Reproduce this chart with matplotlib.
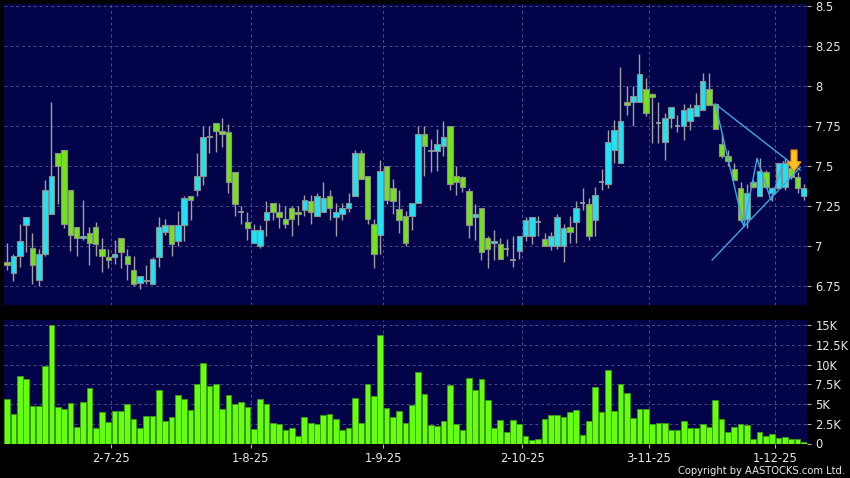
import numpy as np
import matplotlib
matplotlib.use("Agg")
import matplotlib.pyplot as plt
from matplotlib.patches import Polygon

# ---------------- data ----------------
opens = [6.90, 6.83, 6.94, 7.13, 6.99, 6.79, 6.95, 7.20, 7.58, 7.60,
         7.35, 7.12, 7.05, 7.08, 7.12, 6.98, 6.93, 6.93, 7.05, 6.94,
         6.85, 6.77, 6.78, 6.76, 6.93, 7.09, 7.13, 7.03, 7.13, 7.31,
         7.35, 7.44, 7.68, 7.77, 7.72, 7.71, 7.46, 7.215, 7.15, 7.02,
         7.00, 7.16, 7.27, 7.215, 7.17, 7.24, 7.215, 7.225, 7.28, 7.19,
         7.21, 7.315, 7.18, 7.20, 7.24, 7.315, 7.58, 7.44, 7.14, 7.07,
         7.50, 7.36, 7.23, 7.19, 7.19, 7.27, 7.70, 7.595, 7.595, 7.625,
         7.75, 7.44, 7.43, 7.345, 7.18, 7.24, 7.05, 7.02, 7.01, 6.98,
         6.91, 6.97, 7.06, 7.06, 7.15, 7.045, 7.00, 7.00, 7.00, 7.12,
         7.15, 7.27, 7.26, 7.16, 7.40, 7.39, 7.60, 7.52, 7.90, 7.90,
         7.90, 7.98, 7.95, 7.77, 7.65, 7.80, 7.75, 7.75, 7.78, 7.81,
         7.85, 7.98, 7.89, 7.64, 7.56, 7.48, 7.36, 7.17, 7.40, 7.315,
         7.465, 7.33, 7.36, 7.37, 7.485, 7.43, 7.31]
highs = [7.02, 6.95, 7.14, 7.18, 7.08, 6.98, 7.41, 7.90, 7.58, 7.60,
         7.35, 7.12, 7.29, 7.12, 7.15, 7.05, 6.98, 7.04, 7.05, 6.98,
         6.94, 6.81, 6.88, 6.93, 7.18, 7.17, 7.13, 7.22, 7.31, 7.31,
         7.58, 7.75, 7.75, 7.77, 7.80, 7.76, 7.46, 7.25, 7.21, 7.14,
         7.13, 7.28, 7.27, 7.27, 7.25, 7.25, 7.25, 7.32, 7.32, 7.33,
         7.40, 7.35, 7.27, 7.27, 7.33, 7.60, 7.60, 7.44, 7.17, 7.54,
         7.50, 7.42, 7.35, 7.22, 7.27, 7.75, 7.75, 7.67, 7.73, 7.78,
         7.75, 7.50, 7.44, 7.36, 7.26, 7.24, 7.06, 7.10, 7.05, 7.045,
         7.06, 7.06, 7.18, 7.18, 7.19, 7.08, 7.09, 7.20, 7.14, 7.19,
         7.28, 7.365, 7.30, 7.37, 7.48, 7.725, 7.79, 8.12, 8.00, 8.00,
         8.20, 8.05, 7.955, 7.90, 7.83, 7.87, 7.82, 7.89, 7.89, 7.955,
         8.08, 8.08, 7.89, 7.70, 7.60, 7.52, 7.40, 7.39, 7.41, 7.55,
         7.475, 7.37, 7.52, 7.55, 7.52, 7.46, 7.39]
lows = [6.85, 6.78, 6.87, 6.96, 6.76, 6.75, 6.94, 7.20, 7.26, 7.11,
        6.97, 6.94, 7.04, 6.88, 6.94, 6.84, 6.86, 6.89, 6.86, 6.79,
        6.75, 6.73, 6.76, 6.76, 6.87, 7.07, 6.94, 7.00, 7.03, 7.16,
        7.31, 7.38, 7.58, 7.59, 7.62, 7.33, 7.19, 7.14, 7.04, 7.02,
        6.99, 7.06, 7.16, 7.11, 7.11, 7.06, 7.13, 7.19, 7.14, 7.19,
        7.21, 7.16, 7.06, 7.16, 7.215, 7.315, 7.42, 7.14, 6.86, 6.95,
        7.26, 7.20, 7.08, 7.00, 7.10, 7.27, 7.44, 7.465, 7.47, 7.56,
        7.35, 7.32, 7.34, 7.05, 7.04, 6.91, 6.86, 6.91, 6.92, 6.94,
        6.87, 6.92, 7.03, 7.01, 7.06, 7.00, 6.975, 6.98, 6.90, 7.02,
        7.02, 7.225, 7.04, 7.06, 7.35, 7.36, 7.52, 7.52, 7.82, 7.75,
        7.90, 7.81, 7.645, 7.645, 7.54, 7.74, 7.71, 7.66, 7.725, 7.81,
        7.85, 7.88, 7.73, 7.55, 7.50, 7.415, 7.15, 7.11, 7.365, 7.315,
        7.36, 7.28, 7.36, 7.35, 7.42, 7.33, 7.29]
closes = [6.88, 6.94, 7.03, 7.18, 6.88, 6.95, 7.35, 7.44, 7.50, 7.14,
          7.07, 7.05, 7.06, 7.02, 7.01, 6.94, 6.91, 6.95, 6.96, 6.89,
          6.76, 6.81, 6.79, 6.92, 7.12, 7.13, 7.01, 7.13, 7.30, 7.29,
          7.44, 7.68, 7.69, 7.72, 7.70, 7.40, 7.26, 7.215, 7.11, 7.10,
          7.10, 7.215, 7.215, 7.18, 7.14, 7.17, 7.20, 7.29, 7.215, 7.31,
          7.30, 7.24, 7.21, 7.24, 7.27, 7.58, 7.42, 7.17, 6.95, 7.47,
          7.29, 7.28, 7.16, 7.02, 7.27, 7.70, 7.625, 7.595, 7.64, 7.68,
          7.39, 7.40, 7.37, 7.13, 7.20, 6.965, 6.98, 7.03, 6.92, 6.98,
          6.91, 7.06, 7.16, 7.18, 7.15, 7.00, 7.06, 7.18, 7.115, 7.09,
          7.24, 7.27, 7.06, 7.32, 7.40, 7.65, 7.725, 7.78, 7.88, 7.94,
          8.075, 7.83, 7.93, 7.77, 7.80, 7.87, 7.75, 7.85, 7.86, 7.88,
          8.03, 7.88, 7.73, 7.56, 7.53, 7.415, 7.16, 7.33, 7.37, 7.47,
          7.37, 7.36, 7.52, 7.52, 7.43, 7.36, 7.36]
volumes_k = [5.58, 3.76, 8.58, 8.15, 4.73, 4.77, 9.80, 15.0, 4.60, 4.31,
             5.11, 2.15, 5.20, 7.01, 1.99, 3.93, 2.75, 4.18, 4.06, 5.03,
             3.13, 1.94, 3.46, 3.50, 6.76, 2.83, 3.42, 6.21, 5.66, 4.22,
             7.60, 10.14, 7.27, 7.52, 4.31, 6.21, 5.03, 5.24, 4.60, 1.90,
             5.66, 5.03, 2.62, 2.41, 1.65, 1.99, 0.89, 3.34, 2.66, 2.41,
             3.63, 3.72, 3.13, 1.77, 1.94, 5.79, 2.58, 7.60, 5.96, 13.77,
             4.52, 3.34, 4.14, 2.58, 4.90, 9.00, 6.29, 2.32, 2.20, 2.83,
             7.39, 2.45, 1.73, 8.36, 6.76, 8.15, 5.45, 1.99, 2.92, 1.48,
             2.96, 2.53, 0.97, 0.46, 0.55, 3.08, 3.59, 3.59, 3.38, 3.97,
             4.22, 1.14, 2.79, 7.14, 4.01, 9.29, 4.10, 7.48, 6.34, 3.21,
             4.31, 4.31, 2.49, 2.66, 2.58, 1.69, 1.77, 2.83, 1.94, 1.99,
             2.45, 2.11, 5.45, 3.08, 1.48, 2.15, 2.49, 2.32, 0.63, 1.44,
             1.01, 1.23, 0.76, 0.84, 0.63, 0.59, 0.17]

date_labels = ["2-7-25", "1-8-25", "1-9-25", "2-10-25", "3-11-25", "1-12-25"]
date_positions = [16.5, 38.5, 59.5, 81.5, 101.5, 121.5]
price_ticks = [6.75, 7.0, 7.25, 7.5, 7.75, 8.0, 8.25, 8.5]
price_tick_labels = ["6.75", "7", "7.25", "7.5", "7.75", "8", "8.25", "8.5"]
vol_ticks_k = [0, 2.5, 5, 7.5, 10, 12.5, 15]
vol_tick_labels = ["0", "2.5K", "5K", "7.5K", "10K", "12.5K", "15K"]

# trend lines (index, price)
upper_line_x = [112.0, 125.4]
upper_line_y = [7.8875, 7.475]
lower_line_x = [111.5, 125.4]
lower_line_y = [6.9125, 7.49]
zigzag_x = [112.0, 116.5, 118.6, 120.8, 122.8]
zigzag_y = [7.8875, 7.12, 7.548, 7.2875, 7.527]
arrow_x = 124.45
arrow_tip = 7.465

# ---------------- style ----------------
BG = "#000000"
PANEL = "#03034a"
GRID = "#4c4c88"
CYAN = "#20e2f2"
GREEN = "#74e21c"
EDGE = "#8c8c8c"
WICK = "#a0a0a0"
VOL = "#66ff10"
VOL_EDGE = "#3c9c12"
LINE = "#3ea6e6"
TXT = "#e8e8e8"

W, H = 850, 478
fig = plt.figure(figsize=(W / 100, H / 100), dpi=100, facecolor=BG)

ax1 = fig.add_axes([4 / W, 1 - 305 / H, 803 / W, 301 / H], facecolor=PANEL)
ax2 = fig.add_axes([4 / W, 1 - 443.5 / H, 803 / W, 123.8 / H], facecolor=PANEL)

n = len(opens)
x = np.arange(n)
o = np.array(opens); h = np.array(highs); l = np.array(lows); c = np.array(closes)

# wicks
ax1.vlines(x, l, h, color=WICK, lw=1.0, zorder=2)
bw = 0.88
up = c > o
down = c < o
flat = c == o
ax1.bar(x[up], (c - o)[up], bottom=o[up], width=bw, color=CYAN,
        edgecolor=EDGE, linewidth=0.8, zorder=3)
ax1.bar(x[down], (o - c)[down], bottom=c[down], width=bw, color=GREEN,
        edgecolor=EDGE, linewidth=0.8, zorder=3)
ax1.hlines(c[flat], x[flat] - bw / 2, x[flat] + bw / 2, color=WICK, lw=1.2, zorder=3)

# trend lines
ax1.plot(upper_line_x, upper_line_y, color=LINE, lw=1.0, zorder=4)
ax1.plot(lower_line_x, lower_line_y, color=LINE, lw=1.0, zorder=4)
ax1.plot(zigzag_x, zigzag_y, color=LINE, lw=1.0, zorder=4)

# arrow marker
sw, hw = 0.48, 1.1
top, neck = arrow_tip + 0.135, arrow_tip + 0.062
arrow_pts = [(arrow_x - sw, top), (arrow_x + sw, top), (arrow_x + sw, neck),
             (arrow_x + hw, neck), (arrow_x, arrow_tip), (arrow_x - hw, neck),
             (arrow_x - sw, neck)]
ax1.add_patch(Polygon(arrow_pts, closed=True, facecolor="#ffc21e",
                      edgecolor="#e8900a", lw=0.8, zorder=6))

ax1.set_xlim(-0.5, 126.5)
ax1.set_ylim(8.5 - 299 / 160, 8.5 + 2 / 160)

# volume
ax2.bar(x, np.array(volumes_k) * 1000, width=0.9, color=VOL,
        edgecolor=VOL_EDGE, linewidth=0.6, zorder=3)
ax2.set_xlim(-0.5, 126.5)
ax2.set_ylim(0, 15690)

for ax in (ax1, ax2):
    for s in ax.spines.values():
        s.set_visible(False)
    ax.yaxis.tick_right()
    ax.tick_params(axis="y", colors="#b0b0b0", labelcolor=TXT, length=3,
                   width=0.8, pad=3, labelsize=8.3, direction="out")
    ax.set_xticks(date_positions)
    for xp in date_positions:
        ax.axvline(xp, color=GRID, lw=0.7, ls=(0, (3, 3)), zorder=1)

ax1.set_yticks(price_ticks)
ax1.set_yticklabels(price_tick_labels)
for yv in price_ticks:
    ax1.axhline(yv, color=GRID, lw=0.7, ls=(0, (3, 3)), zorder=1)
ax1.tick_params(axis="x", length=0, labelbottom=False)

ax2.set_yticks([v * 1000 for v in vol_ticks_k])
ax2.set_yticklabels(vol_tick_labels)
for yv in vol_ticks_k[1:]:
    ax2.axhline(yv * 1000, color=GRID, lw=0.7, ls=(0, (3, 3)), zorder=1)
ax2.set_xticklabels(date_labels)
ax2.tick_params(axis="x", colors="#b0b0b0", labelcolor=TXT, length=3,
                width=0.8, pad=3, labelsize=8.3)

fig.text(845 / W, 1 - 471 / H, "Copyright by AASTOCKS.com Ltd.", color=TXT,
         fontsize=7.2, ha="right", va="center")

fig.savefig("out.png", dpi=100, facecolor=BG)
